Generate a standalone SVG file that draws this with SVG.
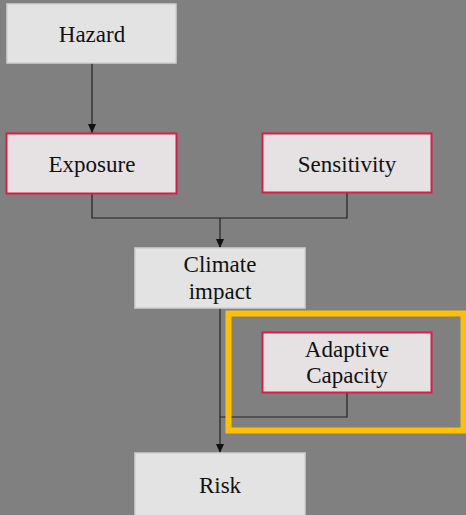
<svg xmlns="http://www.w3.org/2000/svg" width="466" height="515" viewBox="0 0 466 515">
<defs>
<style>
.box{fill:#e3e3e3;stroke:#d0d0d0;stroke-width:1.5}
.rbox{fill:#e6e2e4;stroke:#d81e4a;stroke-width:2}
.t{font-size:23px;fill:#111;text-anchor:middle}
.c{fill:none;stroke:#222;stroke-width:1.2}
</style>
<marker id="arr" markerWidth="10" markerHeight="10" refX="9" refY="5" orient="auto" markerUnits="userSpaceOnUse" viewBox="0 0 10 10">
<path d="M0,1 L9,5 L0,9 Z" fill="#111"/>
</marker>
</defs>
<rect width="466" height="515" fill="#808080"/>
<g id="connectors">
<path class="c" d="M92,63 V133" marker-end="url(#arr)"/>
<path class="c" d="M92,193 V218 H347 V193"/>
<path class="c" d="M220,218 V248" marker-end="url(#arr)"/>
<path class="c" d="M220,308 V453" marker-end="url(#arr)"/>
<path class="c" d="M347,393 V417 H220"/>
</g>
<g font-family="Liberation Serif, Times New Roman, DejaVu Serif, serif">
<g id="hazard"><rect class="box" x="7" y="4" width="169" height="59"/><text class="t" x="92" y="42">Hazard</text></g>
<g id="exposure"><rect class="rbox" x="6.5" y="133.5" width="170" height="60"/><text class="t" x="92" y="172">Exposure</text></g>
<g id="sensitivity"><rect class="rbox" x="262.5" y="133.5" width="169" height="59"/><text class="t" x="347" y="172">Sensitivity</text></g>
<g id="climate"><rect class="box" x="135" y="248" width="170" height="60"/><text class="t" x="220" y="272">Climate</text><text class="t" x="220" y="299">impact</text></g>
<g id="adaptive"><rect class="rbox" x="262.5" y="332.5" width="169" height="60"/><text class="t" x="347" y="357">Adaptive</text><text class="t" x="347" y="383">Capacity</text></g>
<g id="risk"><rect class="box" x="135" y="453" width="170" height="70"/><text class="t" x="220" y="493">Risk</text></g>
</g>
<g id="highlight"><rect x="228.5" y="313.5" width="235" height="117" fill="none" stroke="#ffc000" stroke-width="6"/></g>
</svg>
